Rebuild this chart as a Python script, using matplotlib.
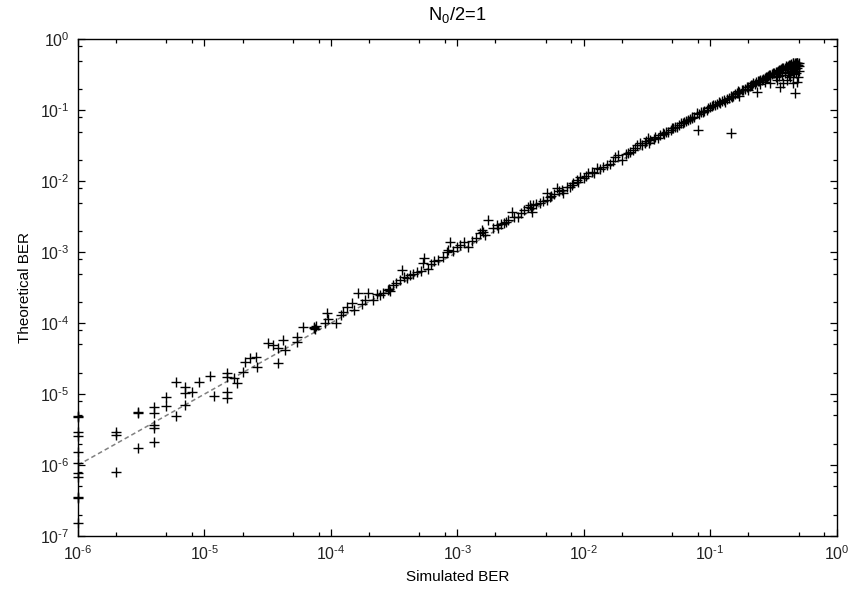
import matplotlib
matplotlib.use("Agg")
import matplotlib.pyplot as plt
import numpy as np
from matplotlib.ticker import LogLocator, NullFormatter, FuncFormatter

plt.rcParams.update({
    "font.family": "Liberation Sans",
    "font.size": 11,
    "axes.unicode_minus": False,
    "mathtext.fontset": "custom",
    "mathtext.rm": "Liberation Sans",
    "mathtext.it": "Liberation Sans",
    "mathtext.default": "regular",
})

# ── data: simulated vs theoretical BER ──────────────────────────────────────
# points with simulated BER = 1e-6 (sitting on the left axis)
sim_axis = [1e-6] * 11
theo_axis = [4.8e-6, 4.9e-6, 2.9e-6, 2.57e-6, 1.54e-6, 1.08e-6, 7.8e-7,
             6.85e-7, 3.4e-7, 3.5e-7, 1.54e-7]

# low range (2e-6 .. 2e-5)
sim_low = [2e-6, 2e-6, 2e-6, 3e-6, 3e-6, 3e-6, 4e-6, 4e-6, 4e-6, 4e-6, 4e-6,
           5e-6, 5e-6, 6e-6, 6e-6, 7e-6, 7e-6, 7e-6, 8e-6, 9e-6, 1.1e-5,
           1.2e-5, 1.5e-5, 1.5e-5, 1.5e-5, 1.5e-5, 1.7e-5, 1.8e-5, 2e-5]
theo_low = [2.95e-6, 2.65e-6, 8.05e-7, 5.65e-6, 5.5e-6, 1.72e-6, 6.5e-6,
            5.5e-6, 3.66e-6, 3.3e-6, 2.13e-6, 9.2e-6, 6.8e-6, 1.5e-5, 4.9e-6,
            1.27e-5, 1.03e-5, 7.0e-6, 1.08e-5, 1.5e-5, 1.8e-5, 9.4e-6, 2.0e-5,
            1.73e-5, 1.08e-5, 8.7e-6, 1.67e-5, 1.45e-5, 2.07e-5]

# middle range (2e-5 .. 3e-2)
sim_mid = [2.1e-5, 2.3e-5, 2.56e-5, 2.6e-5, 3.2e-5, 3.5e-5, 4.2e-5, 3.85e-5,
           4.35e-5, 3.85e-5, 5.4e-5, 5.4e-5, 6.05e-5, 7.3e-5, 7.3e-5, 7.5e-5,
           7.6e-5, 9.3e-5, 9.55e-5, 9.0e-5, 1.1e-4, 1.34e-4, 1.46e-4, 1.51e-4,
           1.65e-4, 1.98e-4, 2.17e-4, 2.45e-4, 2.85e-4, 2.9e-4, 2.95e-4,
           3.12e-4, 3.64e-4, 3.8e-4, 4.23e-4, 4.5e-4, 5.33e-4, 5.5e-4, 5.9e-4,
           7.76e-4, 8.26e-4, 8.5e-4, 8.77e-4, 9.9e-4, 1.12e-3, 1.22e-3,
           1.51e-3, 1.56e-3, 1.66e-3, 1.76e-3, 2.05e-3, 2.11e-3, 2.54e-3,
           2.7e-3, 3.04e-3, 3.65e-3, 3.77e-3, 4.0e-3, 3.88e-3, 3.8e-3, 5.1e-3,
           5.1e-3, 5.5e-3, 6.12e-3, 6.71e-3, 6.9e-3, 7.35e-3, 8.05e-3, 8.3e-3,
           8.8e-3, 9.37e-3, 1.09e-2, 1.16e-2, 1.27e-2, 1.43e-2, 1.52e-2,
           1.77e-2, 1.88e-2, 2.0e-2, 2.33e-2, 2.63e-2, 2.79e-2, 3.06e-2,
           1.2e-4, 1.25e-4, 1.75e-4, 1.85e-4, 2.3e-4, 2.6e-4, 3.3e-4, 3.5e-4,
           4.0e-4, 4.8e-4, 5.2e-4, 6.2e-4, 6.6e-4, 7.0e-4, 9.3e-4, 1.05e-3,
           1.3e-3, 1.4e-3, 1.6e-3, 1.9e-3, 2.2e-3, 2.35e-3, 2.45e-3, 2.8e-3,
           3.2e-3, 3.4e-3, 4.2e-3, 4.5e-3, 4.8e-3, 5.4e-3, 5.8e-3, 6.4e-3,
           7.8e-3, 9.0e-3, 1.0e-2, 1.05e-2, 1.2e-2, 1.35e-2, 1.6e-2, 1.7e-2,
           2.15e-2, 2.25e-2, 2.45e-2, 2.55e-2, 2.9e-2]
theo_mid = [2.86e-5, 3.19e-5, 3.3e-5, 2.43e-5, 5.3e-5, 4.9e-5, 5.8e-5, 4.4e-5,
            4.2e-5, 2.77e-5, 6.44e-5, 5.5e-5, 8.9e-5, 8.9e-5, 8.6e-5, 8.2e-5,
            9.1e-5, 1.38e-4, 1.13e-4, 9.95e-5, 9.95e-5, 1.7e-4, 1.9e-4,
            1.53e-4, 2.63e-4, 2.63e-4, 2.12e-4, 2.49e-4, 2.93e-4, 3.0e-4,
            2.8e-4, 3.45e-4, 5.6e-4, 4.5e-4, 4.76e-4, 4.88e-4, 6.97e-4,
            8.2e-4, 5.74e-4, 8.6e-4, 1.02e-3, 1.07e-3, 1.41e-3, 1.19e-3,
            1.41e-3, 1.19e-3, 1.85e-3, 2.05e-3, 1.75e-3, 2.84e-3, 2.42e-3,
            2.17e-3, 2.84e-3, 3.72e-3, 3.16e-3, 4.38e-3, 4.62e-3, 4.62e-3,
            3.72e-3, 4.2e-3, 6.76e-3, 5.43e-3, 6.2e-3, 7.94e-3, 7.5e-3, 6.76e-3,
            8.37e-3, 8.85e-3, 9.35e-3, 1.04e-2, 1.16e-2, 1.29e-2, 1.36e-2,
            1.52e-2, 1.6e-2, 1.69e-2, 2.22e-2, 2.34e-2, 1.99e-2, 2.6e-2,
            3.24e-2, 3.42e-2, 3.42e-2,
            1.3e-4, 1.45e-4, 1.85e-4, 2.1e-4, 2.6e-4, 2.7e-4, 3.7e-4, 4.0e-4,
            4.3e-4, 5.2e-4, 5.5e-4, 6.8e-4, 7.4e-4, 7.8e-4, 1.05e-3, 1.25e-3,
            1.45e-3, 1.6e-3, 1.9e-3, 2.2e-3, 2.5e-3, 2.6e-3, 2.7e-3, 3.1e-3,
            3.6e-3, 3.9e-3, 4.8e-3, 5.0e-3, 5.3e-3, 6.0e-3, 6.6e-3, 7.2e-3,
            8.3e-3, 9.8e-3, 1.1e-2, 1.18e-2, 1.3e-2, 1.48e-2, 1.75e-2, 1.9e-2,
            2.4e-2, 2.5e-2, 2.75e-2, 2.9e-2, 3.2e-2]

# high range (3e-2 .. 0.5), dense band
sim_high = [3.25e-2, 3.35e-2, 3.67e-2, 3.9e-2, 4.27e-2, 4.68e-2, 5.13e-2,
            5.46e-2, 6.15e-2, 6.73e-2, 7.16e-2, 8.0e-2, 0.147, 7.85e-2,
            8.85e-2, 9.7e-2, 0.106, 0.12, 0.1315, 0.1486, 0.1627, 0.1675,
            0.195, 0.22, 0.249, 0.281, 0.317, 0.358, 0.404, 0.456, 0.49,
            0.234, 0.358, 0.38, 0.471, 0.485, 0.495, 0.337, 0.43, 0.404,
            0.456, 0.3,
            0.031, 0.033, 0.036, 0.040, 0.043, 0.045, 0.049, 0.050, 0.053,
            0.057, 0.059, 0.062, 0.064, 0.069, 0.072, 0.075, 0.082, 0.085,
            0.090, 0.094, 0.10, 0.103, 0.11, 0.113, 0.118, 0.125, 0.128,
            0.135, 0.14, 0.145, 0.152, 0.157, 0.165, 0.17, 0.178, 0.182, 0.19,
            0.2, 0.205, 0.21, 0.215, 0.225, 0.23, 0.24, 0.245, 0.255, 0.26,
            0.27, 0.275, 0.285, 0.29, 0.3, 0.31, 0.32, 0.33, 0.34, 0.345, 0.35,
            0.365, 0.37, 0.38, 0.39, 0.395, 0.41, 0.42, 0.43, 0.44, 0.445,
            0.45, 0.46, 0.465, 0.47, 0.475, 0.48, 0.485, 0.49, 0.495, 0.5,
            0.49, 0.47, 0.46, 0.45, 0.43, 0.42, 0.48, 0.5, 0.44, 0.41, 0.39,
            0.37, 0.35, 0.33, 0.27, 0.25, 0.2, 0.17, 0.5]
theo_high = [4.03e-2, 3.81e-2, 4.24e-2, 4.03e-2, 4.73e-2, 4.99e-2, 5.57e-2,
             5.86e-2, 6.55e-2, 7.29e-2, 7.7e-2, 5.19e-2, 4.73e-2, 9.06e-2,
             9.55e-2, 0.1066, 0.1186, 0.1253, 0.132, 0.155, 0.173, 0.1888,
             0.211, 0.24, 0.267, 0.297, 0.332, 0.369, 0.411, 0.459, 0.465,
             0.183, 0.215, 0.24, 0.173, 0.252, 0.297, 0.267, 0.297, 0.267,
             0.24, 0.24,
             0.037, 0.035, 0.040, 0.045, 0.046, 0.050, 0.053, 0.057, 0.058,
             0.062, 0.066, 0.068, 0.070, 0.075, 0.080, 0.081, 0.088, 0.094,
             0.098, 0.10, 0.11, 0.113, 0.118, 0.122, 0.13, 0.133, 0.14, 0.142,
             0.15, 0.158, 0.16, 0.168, 0.175, 0.18, 0.19, 0.195, 0.2, 0.21,
             0.22, 0.225, 0.23, 0.235, 0.25, 0.255, 0.26, 0.27, 0.28, 0.285,
             0.29, 0.3, 0.31, 0.315, 0.325, 0.34, 0.345, 0.35, 0.36, 0.37,
             0.38, 0.39, 0.4, 0.39, 0.42, 0.42, 0.43, 0.44, 0.45, 0.42, 0.46,
             0.44, 0.47, 0.45, 0.46, 0.42, 0.47, 0.46, 0.44, 0.47,
             0.4, 0.38, 0.35, 0.32, 0.34, 0.31, 0.33, 0.36, 0.36, 0.35, 0.33,
             0.31, 0.3, 0.29, 0.25, 0.235, 0.19, 0.16, 0.42]

sim = np.array(sim_axis + sim_low + sim_mid + sim_high)
theo = np.array(theo_axis + theo_low + theo_mid + theo_high)

# reference line y = x over the simulated range
ref = np.array([1e-6, 0.5])

# ── figure ──────────────────────────────────────────────────────────────────
fig = plt.figure(figsize=(8.5, 5.92), dpi=100)
ax = fig.add_axes([0.0918, 0.0946, 0.8924, 0.839])

ax.plot(ref, ref, linestyle=(0, (3, 2)), color="#808080", linewidth=1.1,
        zorder=2)
ax.plot(sim, theo, linestyle="none", marker="+", markersize=6.5,
        markeredgewidth=1.0, color="black", clip_on=False, zorder=3)

ax.set_xscale("log")
ax.set_yscale("log")
ax.set_xlim(1e-6, 1)
ax.set_ylim(1e-7, 1)


def pow10(v, pos):
    # gnuplot style: 10 with a plain hyphen in the exponent
    e = int(round(np.log10(v)))
    return r"$10^{\text{%d}}$" % e


for axis in (ax.xaxis, ax.yaxis):
    axis.set_major_locator(LogLocator(base=10, numticks=20))
    axis.set_major_formatter(FuncFormatter(pow10))
    axis.set_minor_locator(LogLocator(base=10, subs=(2, 5, 8), numticks=20))
    axis.set_minor_formatter(NullFormatter())

ax.tick_params(which="both", direction="in", top=True, right=True,
               width=0.9, colors="black", labelcolor="#222222",
               labelsize=11.5)
ax.tick_params(which="major", length=5, pad=6)
ax.tick_params(which="minor", length=3)
for s in ax.spines.values():
    s.set_linewidth(1.0)

ax.set_xlabel("Simulated BER", labelpad=5)
ax.set_ylabel("Theoretical BER", labelpad=6)
ax.set_title(r"N$_0$/2=1", pad=14)

fig.savefig("out.png", dpi=100)
